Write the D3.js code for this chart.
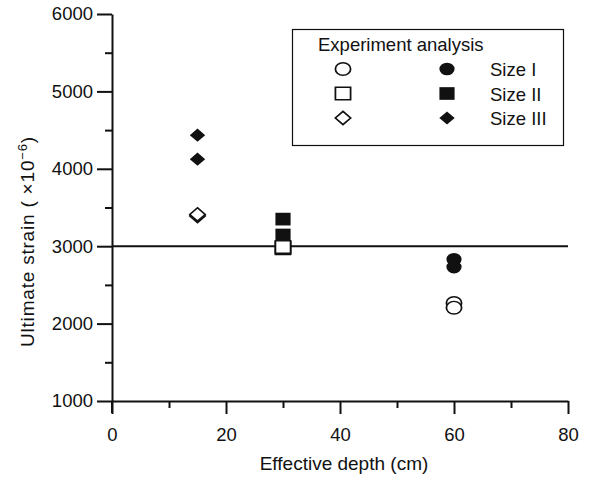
<!DOCTYPE html>
<html>
<head>
<meta charset="utf-8">
<script src="https://cdn.jsdelivr.net/npm/d3@7"></script>
<style>
  html, body { margin: 0; padding: 0; background: #fff; }
  svg { display: block; }
  text { font-family: "Liberation Sans", Arial, Helvetica, sans-serif; fill: #111; }
</style>
</head>
<body>
<svg id="chart" width="595" height="483"></svg>
<script>
// ---- data ----
const sizes = ["Size I", "Size II", "Size III"];
const shapes = ["circle", "square", "diamond"];
const depths = [60, 30, 15];
const analysisValues = [[2265, 2205], [2975, 2990], [3390, 3410]];
const experimentValues = [[2830, 2730], [3350, 3145], [4435, 4125]];
const referenceStrain = 3000;
const xMajorTicks = [0, 20, 40, 60, 80];
const xMinorTicks = [10, 30, 50, 70];
const yMajorTicks = [1000, 2000, 3000, 4000, 5000, 6000];
const yMinorTicks = [1500, 2500, 3500, 4500, 5500];
const legendTitle = "Experiment analysis";

// ---- layout ----
const svg = d3.select("#chart");
const x = d3.scaleLinear().domain([0, 80]).range([112, 568]);
const y = d3.scaleLinear().domain([1000, 6000]).range([401, 14]);
const ink = "#111";

const diamondSymbol = {
  draw(ctx, size) {
    const w = 7.0, h = 7.2;
    ctx.moveTo(0, -h); ctx.lineTo(w, 0); ctx.lineTo(0, h); ctx.lineTo(-w, 0); ctx.closePath();
  }
};
function shapePath(kind) {
  if (kind === "circle") return d3.symbol(d3.symbolCircle, 150)();
  if (kind === "square") return d3.symbol(d3.symbolSquare, 190)();
  return d3.symbol(diamondSymbol, 100)();
}
const sx = 1.1, sy = 0.92;

// axes
const gY = svg.append("g").attr("transform", `translate(${x(0)},0)`)
  .call(d3.axisLeft(y).tickValues(yMajorTicks).tickSize(15).tickSizeOuter(0).tickPadding(4).tickFormat(d3.format("d")));
const gYm = svg.append("g").attr("transform", `translate(${x(0)},0)`)
  .call(d3.axisLeft(y).tickValues(yMinorTicks).tickSize(7).tickSizeOuter(0).tickFormat(""));
const gX = svg.append("g").attr("transform", `translate(0,${y(1000)})`)
  .call(d3.axisBottom(x).tickValues(xMajorTicks).tickSize(13).tickSizeOuter(0).tickPadding(14).tickFormat(d3.format("d")));
const gXm = svg.append("g").attr("transform", `translate(0,${y(1000)})`)
  .call(d3.axisBottom(x).tickValues(xMinorTicks).tickSize(7).tickSizeOuter(0).tickFormat(""));

[gY, gYm, gX, gXm].forEach(g => {
  g.select(".domain").attr("stroke", ink).attr("stroke-width", 2);
  g.selectAll(".tick line").attr("stroke", ink).attr("stroke-width", 2);
  g.selectAll(".tick text").style("font-size", "18.5px").attr("fill", ink)
    .style("font-family", '"Liberation Sans", Arial, sans-serif');
});
gYm.select(".domain").remove();
gXm.select(".domain").remove();
// extend y-axis slightly below the x-axis
svg.append("line").attr("x1", x(0)).attr("x2", x(0)).attr("y1", y(1000)).attr("y2", y(1000) + 12)
  .attr("stroke", ink).attr("stroke-width", 2);

// reference line at 3000
svg.append("line").attr("x1", x(0)).attr("x2", x(80))
  .attr("y1", y(referenceStrain)).attr("y2", y(referenceStrain))
  .attr("stroke", ink).attr("stroke-width", 2);

// axis titles
svg.append("text").attr("x", 344).attr("y", 470).attr("text-anchor", "middle")
  .style("font-size", "19px").text("Effective depth (cm)");
const yl = svg.append("text").attr("transform", "translate(34,242) rotate(-90)")
  .attr("text-anchor", "middle").style("font-size", "19px")
  .attr("textLength", 210).attr("lengthAdjust", "spacing");
yl.append("tspan").text("Ultimate strain ( \u00d710");
yl.append("tspan").attr("dy", -7).style("font-size", "13px").text("\u22126");
yl.append("tspan").attr("dy", 7).text(")");

// data points
sizes.forEach((s, i) => {
  analysisValues[i].forEach(v => {
    svg.append("path").attr("d", shapePath(shapes[i]))
      .attr("transform", `translate(${x(depths[i])},${y(v)}) scale(${sx},${sy})`)
      .attr("fill", "#fff").attr("stroke", ink).attr("stroke-width", 1.6);
  });
});
sizes.forEach((s, i) => {
  experimentValues[i].forEach(v => {
    svg.append("path").attr("d", shapePath(shapes[i]))
      .attr("transform", `translate(${x(depths[i])},${y(v)}) scale(${sx},${sy})`)
      .attr("fill", ink).attr("stroke", "none");
  });
});

// legend
const lg = svg.append("g");
lg.append("rect").attr("x", 292.5).attr("y", 29.5).attr("width", 271).attr("height", 116)
  .attr("fill", "#fff").attr("stroke", ink).attr("stroke-width", 1.2);
lg.append("text").attr("x", 318).attr("y", 51).style("font-size", "18.5px").text(legendTitle);
const rowY = d3.scalePoint().domain(sizes).range([69, 118]);
sizes.forEach((s, i) => {
  const cy = rowY(s);
  lg.append("path").attr("d", shapePath(shapes[i]))
    .attr("transform", `translate(343,${cy}) scale(${sx},${sy})`)
    .attr("fill", "#fff").attr("stroke", ink).attr("stroke-width", 1.6);
  lg.append("path").attr("d", shapePath(shapes[i]))
    .attr("transform", `translate(447,${cy}) scale(${sx},${sy})`)
    .attr("fill", ink);
  lg.append("text").attr("x", 490).attr("y", cy + 7).style("font-size", "18.5px").text(s);
});
</script>
</body>
</html>
